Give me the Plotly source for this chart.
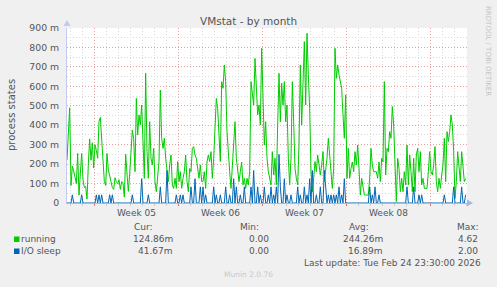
import plotly.graph_objects as go
import pandas as pd

# ---------------- data ----------------
start_time = "2026-01-23 18:00"
sample_step = "160min"

# running processes (milli-units)
running_m = [
    220, 380, 490, 90, 190, 165, 130, 100, 255, 40, 150, 255, 120, 80, 85, 20, 200, 330, 220, 310,
    180, 300, 270, 230, 420, 440, 330, 180, 110, 90, 255, 170, 140, 120, 80, 70, 130, 110, 100, 120,
    70, 110, 100, 30, 250, 150, 60, 150, 240, 375, 330,
    161, 538, 350, 453, 401, 504, 264, 127, 667, 264, 127, 418, 230, 196, 281, 110, 58, 127, 213, 581,
    333, 281, 333, 230, 161, 110, 196, 247, 93, 75, 127, 75, 213, 110, 161, 75, 127, 161, 247, 110,
    58, 178, 161, 281, 290, 247, 230, 161, 127, 196, 110,
    110, 161, 75, 211, 247, 213, 264, 127, 230, 401, 538, 487, 367, 213, 624, 590, 710, 624, 367, 230,
    161, 75, 196, 298, 418, 230, 161, 110, 161, 211, 93, 127, 75, 127, 93, 161, 624, 573, 504, 744,
    556, 453, 504, 401, 796, 504, 298, 418, 230, 161, 127,
    93, 264, 144, 230, 93, 401, 667, 418, 616, 504, 624, 418, 504, 230, 93, 230, 624, 418, 178, 127,
    93, 298, 710, 401, 641, 830, 504, 873, 659, 487, 161, 58, 127, 213, 161, 247, 196, 144, 196, 264,
    110, 161, 230, 333, 230, 161, 75, 178, 796, 641, 710,
    659, 624, 590, 453, 333, 556, 127, 281, 127, 178, 211, 161, 264, 196, 298, 178, 41, 127, 75, 41,
    41, 41, 41, 127, 281, 196, 161, 161, 161, 127, 211, 110, 230, 211, 624, 144, 281, 264, 367, 333,
    496, 401, 161, 7, 230, 178, 58, 127, 58, 161, 93,
    298, 93, 247, 161, 58, 230, 58, 247, 281, 161, 264, 93, 127, 75, 75, 75, 161, 264, 161, 144,
    196, 290, 110, 58, 127, 75, 144, 196, 333, 110, 367, 316, 367, 453, 401, 264, 24, 110, 264, 196,
    110, 264, 196, 110, 125,
]

# I/O sleep (milli-units)
io_sleep_m = [
    0, 0, 0, 0, 42, 0, 0, 0, 0, 0, 0, 42, 0, 0, 0, 0, 0, 0, 0, 0, 0, 0, 42, 0, 42,
    0, 42, 0, 0, 0, 0, 0, 42, 0, 42, 0, 0, 0, 0, 0, 0, 0, 0, 0, 0, 0, 0, 0, 0, 42,
    0, 0, 0, 0, 0, 0, 125, 0, 0, 0, 0, 42, 0, 0, 0, 0, 0, 0, 0, 0, 83, 0, 0, 0, 0,
    167, 0, 0, 0, 0, 0, 0, 42, 0, 0, 42, 0, 42, 0, 0, 0, 0, 0, 83, 0, 0, 125, 0, 0, 0,
    83, 0, 83, 0, 42, 0, 0, 0, 0, 0, 83, 0, 42, 0, 0, 42, 0, 0, 0, 83, 0, 0, 42, 0, 0,
    125, 0, 83, 0, 0, 42, 0, 0, 83, 0, 0, 0, 0, 83, 0, 167, 0, 0, 83, 0, 42, 0, 0, 83, 0,
    0, 42, 0, 83, 0, 42, 0, 83, 0, 250, 83, 0, 0, 125, 0, 42, 0, 0, 42, 0, 0, 0, 0, 83, 0,
    42, 0, 0, 83, 0, 42, 0, 125, 0, 167, 0, 0, 42, 0, 0, 83, 0, 0, 167, 83, 0, 42, 0, 42, 0,
    42, 0, 42, 0, 83, 0, 42, 0, 125, 0, 0, 0, 0, 0, 0, 0, 0, 0, 0, 0, 0, 0, 0, 0, 0,
    0, 0, 83, 0, 42, 0, 83, 0, 0, 42, 0, 0, 0, 0, 0, 0, 0, 0, 0, 0, 0, 0, 0, 0, 0,
    0, 0, 0, 0, 0, 83, 0, 0, 0, 0, 83, 0, 0, 0, 42, 0, 42, 0, 0, 0, 0, 0, 0, 0, 0,
    0, 0, 0, 0, 0, 0, 0, 0, 42, 0, 0, 0, 0, 0, 0, 83, 0, 0, 0, 0, 0, 83, 0, 0, 42,
]

y_tick_vals = [0, 100, 200, 300, 400, 500, 600, 700, 800, 900]
y_tick_text = ["0", "100 m", "200 m", "300 m", "400 m", "500 m", "600 m", "700 m", "800 m", "900 m"]

week_starts = ["2026-01-26", "2026-02-02", "2026-02-09", "2026-02-16", "2026-02-23"]
week_centers = ["2026-01-29 12:00", "2026-02-05 12:00", "2026-02-12 12:00", "2026-02-19 12:00"]
week_labels = ["Week 05", "Week 06", "Week 07", "Week 08"]

legend_names = ["running", "I/O sleep"]
legend_colors = ["#00CC00", "#0066B3"]
col_headers = ["Cur:", "Min:", "Avg:", "Max:"]
cur_vals = ["124.86m", "41.67m"]
min_vals = ["0.00", "0.00"]
avg_vals = ["244.26m", "16.89m"]
max_vals = ["4.62", "2.00"]

title_text = "VMstat - by month"
y_title = "process states"
side_text = "RRDTOOL / TOBI OETIKER"
last_update = "Last update: Tue Feb 24 23:30:00 2026"
version_text = "Munin 2.0.76"

# ---------------- layout geometry ----------------
W, H = 497, 287
L, R, T, B = 67, 30, 28, 84
PW, PH = W - L - R, H - T - B
FONT = "DejaVu Sans"
TXT = "#555555"

times = pd.date_range(pd.Timestamp(start_time), periods=len(running_m), freq=sample_step)
x_start = pd.Timestamp(start_time)
x_end = x_start + pd.Timedelta(days=PW / 12.0)


def px(x):
    return (x - L) / PW


def py(y):
    return (H - B - y) / PH


fig = go.Figure()
fig.add_trace(go.Scatter(x=times, y=running_m, mode="lines", name=legend_names[0],
                         line=dict(color=legend_colors[0], width=1), hoverinfo="skip"))
fig.add_trace(go.Scatter(x=times, y=io_sleep_m, mode="lines", name=legend_names[1],
                         line=dict(color=legend_colors[1], width=1), hoverinfo="skip"))

MAJ = "#E9A3A3"
MIN = "#D9D9D9"
DASH = "1px,2px"

fig.update_layout(
    width=W, height=H,
    margin=dict(l=L, r=R, t=T, b=B, pad=0),
    paper_bgcolor="#F0F0F0",
    plot_bgcolor="#FFFFFF",
    showlegend=False,
    font=dict(family=FONT, size=9, color=TXT),
    xaxis=dict(
        type="date", range=[x_start, x_end], fixedrange=True,
        tickmode="array", tickvals=week_starts, showticklabels=False,
        ticks="outside", ticklen=2, tickcolor="#E07070",
        showgrid=True, gridcolor=MAJ, griddash=DASH, gridwidth=1,
        minor=dict(tickmode="linear", tick0="2026-01-26", dtick=86400000,
                   showgrid=True, gridcolor=MIN, griddash=DASH, gridwidth=1,
                   ticks="outside", ticklen=2, tickcolor="#CCCCCC"),
        showline=True, linecolor="#A9B6E8", linewidth=1, zeroline=False,
        layer="below traces",
    ),
    yaxis=dict(
        range=[0, 900], fixedrange=True,
        tickmode="array", tickvals=y_tick_vals, ticktext=y_tick_text,
        tickfont=dict(family=FONT, size=9.3, color=TXT),
        ticks="", ticklabelstandoff=5,
        showgrid=True, gridcolor=MAJ, griddash=DASH, gridwidth=1,
        minor=dict(tickmode="linear", tick0=0, dtick=50,
                   showgrid=True, gridcolor=MIN, griddash=DASH, gridwidth=1),
        showline=True, linecolor="#C3C9F2", linewidth=1, zeroline=False,
        layer="below traces",
    ),
)

ann = []


def text(t, x, y, xa="center", ya="middle", size=9, color=TXT, angle=0, xref="paper"):
    ann.append(dict(text=t, x=x if xref != "paper" else px(x), y=py(y), xref=xref, yref="paper",
                    xanchor=xa, yanchor=ya, showarrow=False, textangle=angle,
                    font=dict(family=FONT, size=size, color=color), borderpad=0))


text(title_text, 248, 21, size=10.5)
text(y_title, 11, 115, size=10, angle=-90)
text(side_text, 488, 51, size=7, color="#C4C4C4", angle=90)
for c, lab in zip(week_centers, week_labels):
    text(lab, pd.Timestamp(c), 213, xref="x")

header_x = [133, 239, 348, 456]
for hx, h in zip(header_x, col_headers):
    text(h, hx, 227, xa="left")

row_y = [239, 251]
value_right = [174, 270, 384, 479]
for i, name in enumerate(legend_names):
    text(name, 20, row_y[i], xa="left")
    for vx, col in zip(value_right, [cur_vals, min_vals, avg_vals, max_vals]):
        text(col[i], vx, row_y[i], xa="right")

text(last_update, 482, 263, xa="right")
text(version_text, 248, 274, size=7.5, color="#C8C8C8")

fig.update_layout(annotations=ann)

shapes = []
for i, c in enumerate(legend_colors):
    shapes.append(dict(type="rect", xref="paper", yref="paper",
                       x0=px(14), x1=px(19.5), y0=py(row_y[i] + 3), y1=py(row_y[i] - 2.5),
                       fillcolor=c, line=dict(width=0)))
# axis arrow heads
shapes.append(dict(type="path", xref="paper", yref="paper",
                   path=f"M {px(67)},{py(20)} L {px(63.5)},{py(26)} L {px(70.5)},{py(26)} Z",
                   fillcolor="#C3C9F2", line=dict(width=0)))
shapes.append(dict(type="path", xref="paper", yref="paper",
                   path=f"M {px(473)},{py(203)} L {px(467)},{py(199.5)} L {px(467)},{py(206.5)} Z",
                   fillcolor="#A9B6E8", line=dict(width=0)))
fig.update_layout(shapes=shapes)

fig.write_html("out.html", config={"displayModeBar": False})
